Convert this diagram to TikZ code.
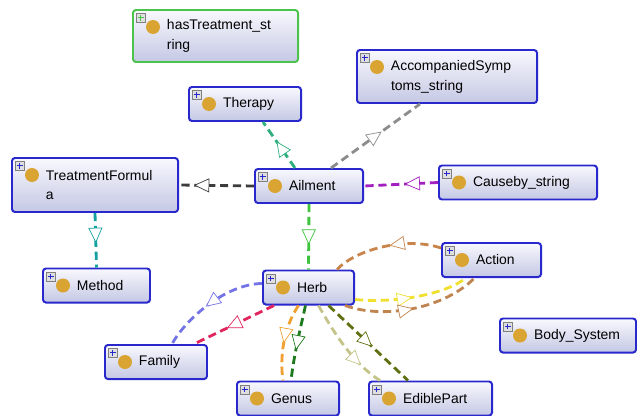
\documentclass[tikz,border=0pt]{standalone}
\usepackage{fontspec}
\setmainfont{Liberation Sans}
\usepackage{tikz}
\usetikzlibrary{arrows.meta,calc,decorations.markings}
\usepackage{xcolor}
\definecolor{clsblue}{HTML}{2828CC}
\definecolor{clsgreen}{HTML}{4CC44C}
\definecolor{boxtop}{HTML}{F8F8FD}
\definecolor{boxbot}{HTML}{C4C8E4}
\definecolor{dotc}{HTML}{D9A431}
\definecolor{tfc}{HTML}{3C3C3C}
\definecolor{therc}{HTML}{2EAF7D}
\definecolor{accc}{HTML}{8C8C8C}
\definecolor{causc}{HTML}{A21FC0}
\definecolor{herbc}{HTML}{3CC43C}
\definecolor{methc}{HTML}{14A0A0}
\definecolor{famblue}{HTML}{7474E6}
\definecolor{famred}{HTML}{E0245E}
\definecolor{acttop}{HTML}{C8844A}
\definecolor{actyel}{HTML}{F0E030}
\definecolor{actlow}{HTML}{C08450}
\definecolor{genor}{HTML}{F0A030}
\definecolor{gengr}{HTML}{1E7A1E}
\definecolor{edkh}{HTML}{C4C48A}
\definecolor{edol}{HTML}{5E7010}

\begin{document}
\begin{tikzpicture}[
  x=0.03cm, y=-0.03cm,
  font=\fontsize{11.9}{17}\selectfont,
  cls/.style={draw=clsblue, line width=1.7pt, rounded corners=2.5pt,
    top color=boxtop, bottom color=boxbot, minimum height=1.02cm,
    inner xsep=0pt, inner ysep=2pt, align=left,
    execute at begin node={\leftskip=1.02cm\relax\hyphenpenalty=10000\relax},
    path picture={
      \draw[sharp corners, line width=0.4pt, draw=gray, fill=gray!25]
        ($(path picture bounding box.north west)+(0.1cm,-0.1cm)$) rectangle ++(0.27cm,-0.27cm);
      \draw[sharp corners, line width=0.6pt]
        ($(path picture bounding box.north west)+(0.235cm,-0.15cm)$) -- ++(0cm,-0.17cm)
        ($(path picture bounding box.north west)+(0.15cm,-0.235cm)$) -- ++(0.17cm,0cm);
      \fill[dotc] ($(path picture bounding box.north west)+(0.6cm,-0.51cm)$) circle (0.21cm);
    }},
  link/.style={line width=2.4pt, dash pattern=on 7pt off 4pt},
  mid/.style={postaction={decorate}, decoration={markings, mark=at position #1 with
    {\arrow{Triangle[fill=white, line width=0.6pt, length=13pt, width=12pt]}}}}
]
\useasboundingbox (0,0) rectangle (637,416);

\node[cls, draw=clsgreen, text width=4.95cm, minimum height=1.56cm] (hastreat) at (215.5,36) {hasTreatment\_st\\ring};
\node[cls, text width=5.4cm, minimum height=1.59cm] (accomp) at (447,76.5) {AccompaniedSymp\\toms\_string};
\node[cls, text width=3.36cm] (therapy) at (245,104) {Therapy};
\node[cls, text width=4.98cm, minimum height=1.62cm] (tform) at (95,185) {TreatmentFormul\\a};
\node[cls, text width=3.24cm] (ailment) at (309,186) {Ailment};
\node[cls, text width=4.74cm] (causeby) at (518,182.5) {Causeby\_string};
\node[cls, text width=3.21cm] (method) at (96.5,285.5) {Method};
\node[cls, text width=2.73cm] (herb) at (308.5,287.5) {Herb};
\node[cls, text width=2.97cm] (action) at (491.5,260) {Action};
\node[cls, text width=4.08cm] (body) at (568,335.5) {Body\_System};
\node[cls, text width=3.06cm] (family) at (156,362) {Family};
\node[cls, text width=3.06cm] (genus) at (288,398.5) {Genus};
\node[cls, text width=3.69cm] (edible) at (430.5,398.5) {EdiblePart};

\draw[link, tfc, mid=0.8] (ailment.west) -- (tform.east);
\draw[link, therc, mid=0.58] ($(ailment.north)+(-14,0)$) -- ($(therapy.south)+(18,0)$);
\draw[link, accc, mid=0.57] ($(ailment.north)+(22,0)$) -- ($(accomp.south)+(-27,0)$);
\draw[link, causc, mid=0.45] (causeby.west) -- (ailment.east);
\draw[link, herbc, mid=0.62] (ailment.south) -- (herb.north);
\draw[link, methc, mid=0.55] (tform.south) -- (method.north);
\draw[link, famblue, mid=0.55] ($(herb.west)+(0,-4)$) .. controls (225,284) and (185,320) .. ($(family.north)+(16,0)$);
\draw[link, famred, mid=0.59] ($(herb.south west)+(12,0)$) -- ($(family.north east)+(-14,0)$);
\draw[link, acttop, mid=0.47] ($(action.west)+(0,-12)$) .. controls (405,236) and (355,250) .. ($(herb.north east)+(-18,0)$);
\draw[link, actyel, mid=0.5] ($(herb.east)+(0,12)$) .. controls (400,304) and (450,292) .. ($(action.south)+(-26,0)$);
\draw[link, actlow, mid=0.5] ($(herb.south east)+(-10,0)$) .. controls (385,320) and (445,308) .. ($(action.south)+(-17,0)$);
\draw[link, genor, mid=0.52] ($(herb.south)+(-10,0)$) .. controls (282,330) and (280,360) .. ($(genus.north)+(-5,0)$);
\draw[link, gengr, mid=0.6] ($(herb.south)+(-3,0)$) .. controls (300,330) and (294,355) .. ($(genus.north)+(3,0)$);
\draw[link, edkh, mid=0.75] ($(herb.south)+(10,0)$) .. controls (335,335) and (355,365) .. ($(edible.north west)+(12,0)$);
\draw[link, edol, mid=0.55] ($(herb.south)+(20,0)$) -- ($(edible.north west)+(40,0)$);

\end{tikzpicture}
\end{document}
